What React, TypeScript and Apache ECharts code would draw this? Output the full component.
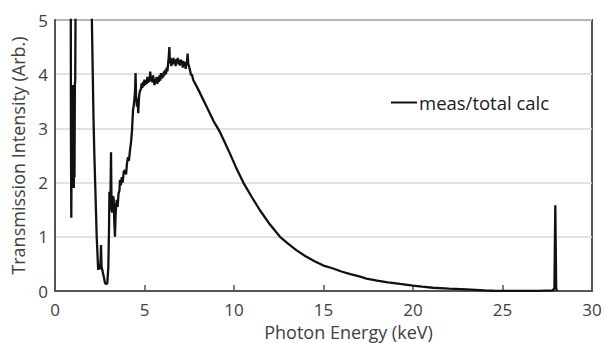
import React, { useEffect, useRef } from "react";
import * as echarts from "echarts";

// Photon energy (keV) and measured/total-calc transmission intensity (Arb.)
const energyKeV: number[] = [
  0.80, 0.88, 0.89, 0.91, 0.93, 0.95, 0.97, 0.99, 1.01, 1.03, 1.05, 1.07, 1.09, 1.11, 1.13, 1.16, 1.18,
  1.50, 2.00, 2.05, 2.10, 2.15, 2.20, 2.27, 2.33, 2.38, 2.41, 2.47, 2.52, 2.55, 2.57, 2.60, 2.65, 2.70,
  2.75, 2.79, 2.85, 2.92, 2.98, 3.02, 3.04, 3.07, 3.10, 3.13, 3.16, 3.20, 3.24, 3.28, 3.31, 3.35, 3.38,
  3.42, 3.45, 3.50, 3.55, 3.60, 3.63, 3.68, 3.73, 3.78, 3.84, 3.91, 3.97, 4.02, 4.08, 4.13, 4.19, 4.25,
  4.30, 4.36, 4.41, 4.45, 4.48, 4.50, 4.53, 4.58, 4.62, 4.65, 4.70, 4.75, 4.80, 4.84, 4.88, 4.92, 4.96,
  5.00, 5.04, 5.08, 5.12, 5.16, 5.20, 5.24, 5.28, 5.32, 5.36, 5.40, 5.44, 5.48, 5.52, 5.56, 5.60, 5.64,
  5.68, 5.72, 5.76, 5.80, 5.84, 5.88, 5.92, 5.96, 6.00, 6.04, 6.08, 6.12, 6.16, 6.20, 6.24, 6.28, 6.32,
  6.36, 6.39, 6.42, 6.46, 6.50, 6.54, 6.58, 6.62, 6.66, 6.70, 6.74, 6.78, 6.82, 6.86, 6.90, 6.94, 6.98,
  7.02, 7.06, 7.10, 7.14, 7.18, 7.22, 7.26, 7.30, 7.34, 7.38, 7.41, 7.44, 7.48, 7.52, 7.56, 7.60, 7.64,
  7.73, 8.00, 8.50, 8.85, 9.22, 9.50, 9.78, 10.10, 10.52, 11.00, 11.45, 12.00, 12.57, 13.00, 13.50,
  14.00, 14.50, 15.00, 15.50, 16.00, 16.50, 17.00, 17.40, 18.00, 18.60, 19.27, 20.00, 20.50, 21.10,
  22.00, 23.00, 24.00, 24.50, 25.00, 26.00, 27.00, 27.80, 27.90, 27.95, 28.00, 28.05,
];

const intensity: number[] = [
  8.0, 6.0, 3.0, 1.35, 2.6, 3.8, 1.9, 3.6, 2.0, 3.7, 1.9, 3.8, 2.1, 3.8, 3.9, 6.0, 8.0,
  9.0, 7.0, 5.2, 4.2, 3.2, 2.5, 1.7, 1.0, 0.63, 0.39, 0.5, 0.4, 0.6, 0.85, 0.45, 0.38, 0.3,
  0.22, 0.15, 0.13, 0.14, 0.45, 1.2, 1.83, 1.6, 1.75, 2.56, 1.5, 1.45, 1.75, 1.7, 1.3, 1.0, 1.35,
  1.6, 1.68, 1.55, 1.8, 1.85, 2.05, 1.95, 2.1, 2.0, 2.2, 2.23, 2.15, 2.35, 2.47, 2.4, 2.6, 2.75,
  2.95, 3.34, 3.45, 3.6, 3.75, 4.02, 3.6, 3.4, 3.55, 3.28, 3.6, 3.7, 3.72, 3.83, 3.75, 3.86, 3.78,
  3.9, 3.8, 3.88, 3.82, 3.95, 3.84, 3.9, 3.86, 4.05, 3.88, 3.95, 3.85, 3.98, 3.86, 3.8, 3.92, 3.84,
  3.95, 3.82, 3.94, 3.86, 3.98, 3.88, 4.02, 3.92, 4.0, 3.94, 4.05, 3.98, 4.08, 4.0, 4.12, 4.05, 4.2,
  4.35, 4.5, 4.2, 4.3, 4.15, 4.28, 4.18, 4.3, 4.2, 4.25, 4.15, 4.28, 4.2, 4.3, 4.18, 4.26, 4.16,
  4.27, 4.2, 4.25, 4.12, 4.24, 4.15, 4.22, 4.1, 4.2, 4.25, 4.38, 4.2, 4.15, 4.1, 4.05, 3.98, 4.0,
  3.89, 3.72, 3.38, 3.14, 2.93, 2.73, 2.53, 2.29, 2.0, 1.73, 1.49, 1.23, 1.0, 0.88, 0.75,
  0.64, 0.55, 0.47, 0.42, 0.36, 0.31, 0.27, 0.23, 0.19, 0.16, 0.13, 0.1, 0.08, 0.06,
  0.045, 0.03, 0.012, 0.005, 0.003, 0.002, 0.002, 0.01, 0.05, 1.58, 0.04, 0.0,
];

const xTicks: number[] = [0, 5, 10, 15, 20, 25, 30];
const yTicks: number[] = [0, 1, 2, 3, 4, 5];
const seriesName = "meas/total calc";

export default function App() {
  const ref = useRef<HTMLDivElement>(null);

  useEffect(() => {
    if (!ref.current) return;
    const chart = echarts.init(ref.current, undefined, { renderer: "svg" });
    const data = energyKeV.map((x, i) => [x, intensity[i]]);
    const font = "'Open Sans', 'Noto Sans', sans-serif";
    const textColor = "#404040";
    const axisColor = "#555555";
    chart.setOption({
      animation: false,
      backgroundColor: "#ffffff",
      grid: {
        left: 55,
        right: 13,
        top: 20,
        bottom: 52,
        show: true,
        containLabel: false,
        outerBoundsMode: "none",
        borderColor: axisColor,
        borderWidth: 2,
        backgroundColor: "transparent",
      },
      legend: {
        show: true,
        data: [seriesName],
        left: 386,
        top: 88,
        icon: "rect",
        itemWidth: 26,
        itemHeight: 2,
        itemGap: 4,
        textStyle: { fontFamily: font, fontSize: 18.5, color: "#1a1a1a", padding: [0, 0, 0, -3] },
      },
      xAxis: {
        type: "value",
        min: xTicks[0],
        max: xTicks[xTicks.length - 1],
        interval: 5,
        name: "Photon Energy (keV)",
        nameLocation: "middle",
        nameGap: 25,
        nameTextStyle: {
          fontFamily: font,
          fontSize: 18,
          lineHeight: 18,
          color: textColor,
          padding: [0, 0, 0, 50],
        },
        axisLine: { show: true, lineStyle: { color: axisColor, width: 2 } },
        axisTick: { show: true, inside: true, length: 6, lineStyle: { color: axisColor, width: 1.5 } },
        axisLabel: { fontFamily: font, fontSize: 17, color: textColor, margin: 10 },
        splitLine: { show: false },
      },
      yAxis: {
        type: "value",
        min: yTicks[0],
        max: yTicks[yTicks.length - 1],
        interval: 1,
        name: "Transmission Intensity (Arb.)",
        nameLocation: "middle",
        nameGap: 26,
        nameTextStyle: { fontFamily: font, fontSize: 18, color: textColor },
        axisLine: { show: true, lineStyle: { color: axisColor, width: 2 } },
        axisTick: { show: false },
        axisLabel: { fontFamily: font, fontSize: 17, color: textColor, margin: 7 },
        splitLine: { show: true, lineStyle: { color: "#d9d9d9", width: 1.5 } },
      },
      series: [
        {
          name: seriesName,
          type: "line",
          data,
          symbol: "none",
          showSymbol: false,
          clip: true,
          lineStyle: { color: "#111111", width: 2.3 },
          itemStyle: { color: "#111111" },
        },
      ],
    });
    return () => chart.dispose();
  }, []);

  return (
    <div
      ref={ref}
      style={{ position: "fixed", left: 0, top: 0, width: 605, height: 343, background: "#fff" }}
    />
  );
}
